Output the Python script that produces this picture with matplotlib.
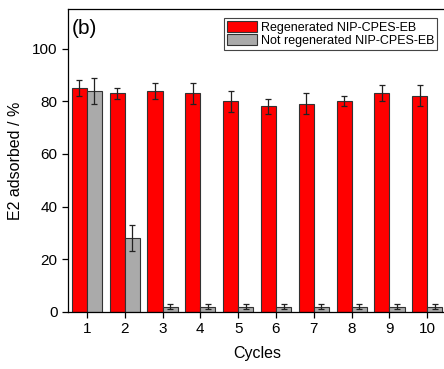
import numpy as np
import matplotlib
matplotlib.use("Agg")
import matplotlib.pyplot as plt

plt.rcParams["font.family"] = ["Liberation Sans", "DejaVu Sans"]

cycles = [1, 2, 3, 4, 5, 6, 7, 8, 9, 10]
regen = [85, 83, 84, 83, 80, 78, 79, 80, 83, 82]
regen_err = [3, 2, 3, 4, 4, 3, 4, 2, 3, 4]
not_regen = [84, 28, 2, 2, 2, 2, 2, 2, 2, 2]
not_regen_err = [5, 5, 1, 1, 1, 1, 1, 1, 1, 1]

fig = plt.figure(figsize=(4.44, 3.69), dpi=100)
ax = fig.add_axes([0.153, 0.1545, 1.005 - 0.153, 0.9756 - 0.1545])

x = np.array(cycles)
w = 0.4
ekw = dict(ecolor="#222222", elinewidth=0.9, capthick=0.9)
ax.bar(x - w / 2, regen, w, color="#ff0000", edgecolor="#333333", linewidth=0.8,
       yerr=regen_err, capsize=2.3, error_kw=ekw,
       label="Regenerated NIP-CPES-EB")
ax.bar(x + w / 2, not_regen, w, color="#aaaaaa", edgecolor="#333333", linewidth=0.8,
       yerr=not_regen_err, capsize=2.3, error_kw=ekw,
       label="Not regenerated NIP-CPES-EB")

ax.set_xlim(0.5, 10.5)
ax.set_ylim(0, 115)
ax.set_xticks(cycles)
ax.set_yticks([0, 20, 40, 60, 80, 100])
ax.tick_params(direction="out", length=4.5, width=0.9, labelsize=11, pad=3)
ax.set_xlabel("Cycles", fontsize=11.5, labelpad=7)
ax.set_ylabel("E2 adsorbed / %", fontsize=11.5)
ax.yaxis.set_label_coords(-0.12, 0.5)
for s in ax.spines.values():
    s.set_linewidth(0.9)

ax.text(0.01, 0.968, "(b)", transform=ax.transAxes, fontsize=15, va="top", ha="left")

leg = ax.legend(loc="upper right", bbox_to_anchor=(0.976, 0.970), fontsize=9.0, frameon=True,
                fancybox=False, edgecolor="#444444", framealpha=1, borderpad=0.25,
                handlelength=2.4, handleheight=0.95, handletextpad=0.3, labelspacing=0.0,
                borderaxespad=0)
leg.get_frame().set_linewidth(0.8)

fig.savefig("out.png", dpi=100)
